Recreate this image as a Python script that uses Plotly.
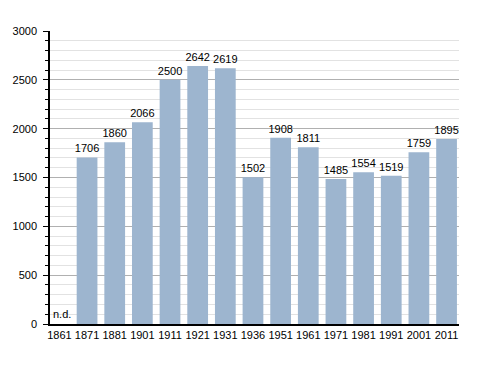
import plotly.graph_objects as go

years = ["1861", "1871", "1881", "1901", "1911", "1921", "1931", "1936",
         "1951", "1961", "1971", "1981", "1991", "2001", "2011"]
population = [None, 1706, 1860, 2066, 2500, 2642, 2619, 1502,
              1908, 1811, 1485, 1554, 1519, 1759, 1895]
labels = ["" if v is None else str(v) for v in population]

FONT = "Liberation Sans, Arial, sans-serif"

fig = go.Figure()
fig.add_trace(go.Bar(
    x=years, y=population, text=labels, textposition="outside",
    constraintext="none",
    textfont=dict(family=FONT, size=11, color="black"),
    marker=dict(color="#9db5cf", line=dict(width=0)),
    cliponaxis=False,
))
fig.add_annotation(x=0, y=0, text="n.d.", xref="x", yref="y",
                   xanchor="left", yanchor="bottom", xshift=-8, yshift=2,
                   showarrow=False, font=dict(family=FONT, size=11, color="black"))

fig.update_layout(
    width=480, height=365,
    margin=dict(l=42, r=29, t=23, b=49, autoexpand=False),
    paper_bgcolor="white", plot_bgcolor="white",
    bargap=0.25, showlegend=False,
    font=dict(family=FONT, size=11, color="black"),
)
fig.update_xaxes(
    type="category", range=[-0.34, 14.45], automargin=False,
    showline=True, linecolor="black", linewidth=1.5,
    ticks="", showgrid=False,
    tickfont=dict(family=FONT, size=11, color="black"),
)
fig.update_yaxes(
    range=[0, 3000], tickvals=[0, 500, 1000, 1500, 2000, 2500, 3000],
    automargin=False,
    showline=True, linecolor="black", linewidth=1.5,
    ticks="outside", ticklen=5, tickcolor="black",
    showgrid=True, gridcolor="#b0b0b0", gridwidth=1,
    minor=dict(dtick=100, showgrid=True, gridcolor="#e2e2e2", gridwidth=1,
               ticks="outside", ticklen=3, tickcolor="black"),
    zeroline=False,
    tickfont=dict(family=FONT, size=11, color="black"),
    ticklabelstandoff=4,
)

fig.write_html("out.html")
